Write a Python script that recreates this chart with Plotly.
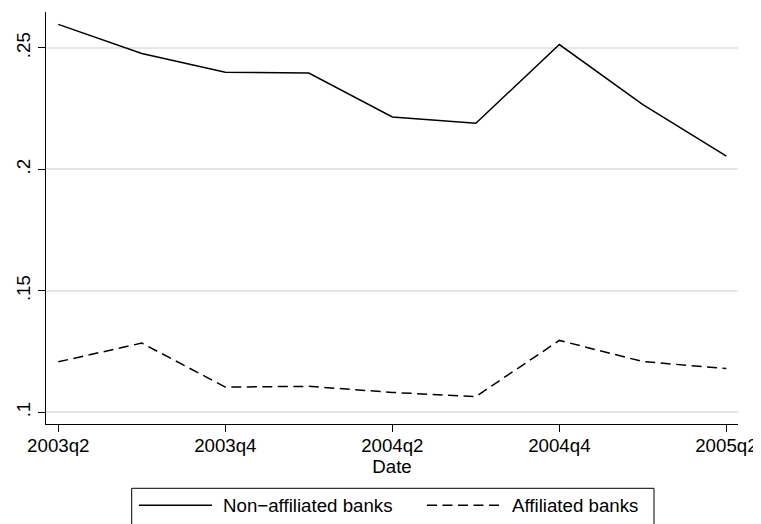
import plotly.graph_objects as go

quarters = ["2003q2", "2003q3", "2003q4", "2004q1", "2004q2", "2004q3", "2004q4", "2005q1", "2005q2"]
non_affiliated = [0.2597, 0.2477, 0.2400, 0.2397, 0.2216, 0.2190, 0.2514, 0.2267, 0.2055]
affiliated = [0.1208, 0.1285, 0.1104, 0.1107, 0.1082, 0.1065, 0.1296, 0.1209, 0.1180]
tick_labels = ["2003q2", "2003q4", "2004q2", "2004q4", "2005q2"]
y_ticks = [0.10, 0.15, 0.20, 0.25]
y_tick_text = [".1", ".15", ".2", ".25"]
series_names = ["Non\u2212affiliated banks", "Affiliated banks"]

xpos = list(range(len(quarters)))
tick_pos = [quarters.index(t) for t in tick_labels]

FONT = "Liberation Sans, Arial, Helvetica, sans-serif"
FS = 18.7
OFF = 8  # page body margin of the browser
W, H = 761 - OFF, 524 - OFF
ML, MR, MT, MB = 46 - OFF, 23, 12 - OFF, 100
PW, PH = W - ML - MR, H - MT - MB
DASH = "10px,5.5px"


def px(x):
    return (x - OFF - ML) / PW


def py(y):
    return (H - MB - (y - OFF)) / PH


fig = go.Figure()
fig.add_trace(go.Scatter(x=xpos, y=non_affiliated, mode="lines", name=series_names[0],
                         line=dict(color="black", width=1.5), showlegend=False))
fig.add_trace(go.Scatter(x=xpos, y=affiliated, mode="lines", name=series_names[1],
                         line=dict(color="black", width=1.5, dash=DASH), showlegend=False))

# legend drawn as box + sample lines + labels (Stata-like layout)
shapes = [
    dict(type="rect", xref="paper", yref="paper", x0=px(131.7), x1=px(654), y0=py(488.3), y1=py(540),
         line=dict(color="black", width=1), fillcolor="white", layer="above"),
    dict(type="line", xref="paper", yref="paper", x0=px(139), x1=px(212), y0=py(505.3), y1=py(505.3),
         line=dict(color="black", width=1.5)),
    dict(type="line", xref="paper", yref="paper", x0=px(427), x1=px(499), y0=py(505.3), y1=py(505.3),
         line=dict(color="black", width=1.5, dash=DASH)),
]
annotations = [
    dict(text=series_names[0], xref="paper", yref="paper", x=px(221), y=py(505.3),
         xanchor="left", yanchor="middle", showarrow=False, font=dict(size=FS)),
    dict(text=series_names[1], xref="paper", yref="paper", x=px(510), y=py(505.3),
         xanchor="left", yanchor="middle", showarrow=False, font=dict(size=FS)),
]

fig.update_layout(
    width=W, height=H,
    paper_bgcolor="white", plot_bgcolor="white",
    margin=dict(l=ML, r=MR, t=MT, b=MB, autoexpand=False),
    font=dict(family=FONT, size=FS, color="black"),
    showlegend=False,
    shapes=shapes,
    annotations=annotations,
    xaxis=dict(range=[-0.147, 8.139], tickvals=tick_pos, ticktext=tick_labels,
               showline=True, linecolor="black", linewidth=1.2,
               ticks="outside", ticklen=7, tickcolor="black", tickwidth=1.2,
               ticklabelstandoff=-3,
               showgrid=False, zeroline=False, automargin=False,
               title=dict(text="Date", standoff=0, font=dict(size=FS))),
    yaxis=dict(range=[0.0952, 0.2648], tickvals=y_ticks, ticktext=y_tick_text,
               tickangle=-90, automargin=False,
               showline=True, linecolor="black", linewidth=1.2,
               ticks="outside", ticklen=7, tickcolor="black", tickwidth=1.2,
               showgrid=True, gridcolor="#e6e6e6", gridwidth=1.5, zeroline=False),
)

fig.write_html("out.html")
